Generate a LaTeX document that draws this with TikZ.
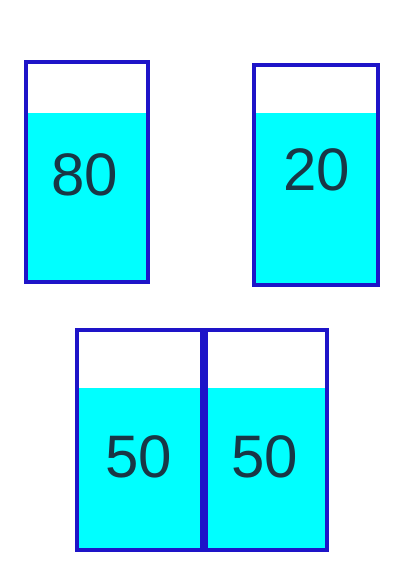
\documentclass[tikz,border=0pt]{standalone}
\usepackage{fontspec}
\setmainfont{Liberation Sans}
\definecolor{rim}{RGB}{30,20,200}
\definecolor{water}{RGB}{0,255,255}
\definecolor{digit}{RGB}{25,55,70}
\begin{document}
\begin{tikzpicture}[x=1pt,y=-1pt,
  glass/.style={draw=rim,line width=4pt},
  waterfill/.style={fill=water},
  num/.style={text=digit,font=\fontsize{60}{60}\selectfont,inner sep=0pt}]
\useasboundingbox (0,0) rectangle (417,572);
% glass 1
\fill[waterfill] (28,113) rectangle (146,280);
\node[glass,minimum width=122pt,minimum height=220pt,inner sep=0pt] (g1) at (87,172) {};
\node[num] (t1) at (85,175) {80};
% glass 2
\fill[waterfill] (256,113) rectangle (376,283);
\node[glass,minimum width=124pt,minimum height=220pt,inner sep=0pt] (g2) at (316,175) {};
\node[num] (t2) at (317,170) {20};
% glass 3 (two halves)
\fill[waterfill] (79,388) rectangle (325,548);
\node[glass,minimum width=125pt,minimum height=220pt,inner sep=0pt] (g3a) at (139.5,440) {};
\node[glass,minimum width=125pt,minimum height=220pt,inner sep=0pt] (g3b) at (264.5,440) {};
\draw[draw=rim,line width=8pt] (g3a.north east) -- (g3a.south east);
\node[num] (t3) at (139,457) {50};
\node[num] (t4) at (265,457) {50};
\end{tikzpicture}
\end{document}
